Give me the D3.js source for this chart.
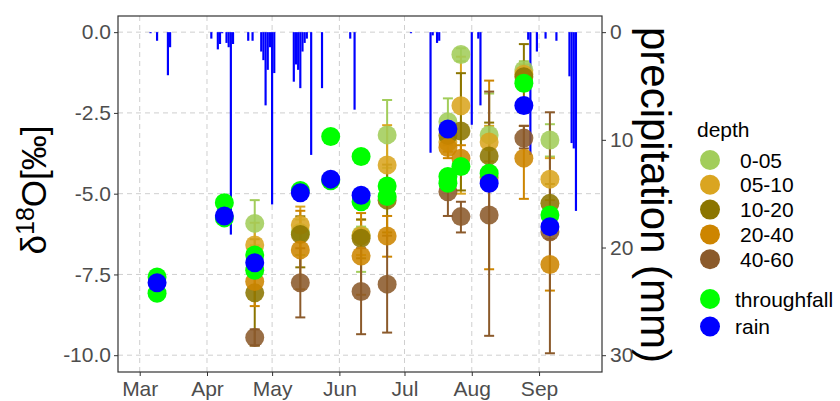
<!DOCTYPE html>
<html>
<head>
<meta charset="utf-8">
<script src="https://cdn.jsdelivr.net/npm/d3@7"></script>
<style>
  body { margin: 0; background: #fff; }
  text { font-family: "Liberation Sans", Arial, sans-serif; }
</style>
</head>
<body>
<div id="chart"></div>
<script>
// daily precipitation (mm)
const precipDates = ["2019-03-06","2019-03-09","2019-03-14","2019-03-15","2019-04-03","2019-04-06","2019-04-07","2019-04-08",
  "2019-04-10","2019-04-11","2019-04-12","2019-04-13","2019-04-20","2019-04-22","2019-04-26","2019-04-27","2019-04-28",
  "2019-04-29","2019-04-30","2019-05-01","2019-05-02","2019-05-11","2019-05-12","2019-05-13","2019-05-14","2019-05-15",
  "2019-05-16","2019-05-17","2019-05-19","2019-05-24","2019-06-06","2019-06-08","2019-07-04","2019-07-13","2019-07-14",
  "2019-07-16","2019-07-17","2019-08-01","2019-08-04","2019-08-05","2019-08-27","2019-08-28","2019-08-31","2019-09-04",
  "2019-09-09","2019-09-15","2019-09-16","2019-09-17","2019-09-18"];
const precipMm = [0.1,0.8,4.0,1.4,0.6,1.6,1.1,0.1,
  1.0,1.4,18.8,1.1,0.8,0.8,1.8,2.6,6.8,
  3.5,1.4,16.0,3.8,4.6,3.0,3.5,5.2,1.8,
  1.0,0.6,11.4,5.2,0.6,7.2,0.1,11.2,0.3,
  1.0,0.8,8.6,0.6,6.8,0.7,11.4,1.8,0.6,
  0.8,4.1,10.3,10.8,16.6];

// soil water sampling
const soilDates = ["2019-04-23","2019-05-14","2019-06-11","2019-06-23","2019-07-21","2019-07-27","2019-08-09","2019-08-25","2019-09-06"];
const depths = ["0-05","05-10","10-20","20-40","40-60"];
const mean0005 = [-5.92,-6.2,-6.28,-3.18,-2.77,-0.69,-3.18,-1.17,-3.34];
const err0005  = [[-6.6,-5.2],[-6.9,-5.8],[-7.42,-6.02],[-4.2,-2.1],[-3.5,-2.05],[-0.9,-0.5],[-4.3,-1.9],[-1.5,-0.9],[-3.85,-2.85]];
const mean0510 = [-6.59,-5.97,-6.3,-4.11,-3.4,-2.28,-3.4,-1.3,-4.55];
const err0510  = [[-7.3,-5.9],[-6.5,-5.4],[-6.9,-5.8],[-5.3,-2.88],[-3.7,-3.1],[-5.0,-0.76],[-4.0,-2.9],[-1.8,-1.0],[-5.2,-3.9]];
const mean1020 = [-8.07,-6.26,-6.38,-5.2,-3.2,-3.06,-3.83,-1.38,-5.3];
const err1020  = [[-9.7,-6.41],[-7.28,-5.7],[-7.0,-5.8],[-6.2,-4.1],[-3.5,-2.9],[-4.9,-1.27],[-4.9,-2.8],[-2.5,-0.37],[-5.9,-4.7]];
const mean2040 = [-7.72,-6.74,-6.93,-6.31,-3.57,-3.9,-4.5,-3.9,-7.19];
const err2040  = [[-8.48,-7.0],[-7.96,-5.53],[-8.13,-5.6],[-6.95,-5.69],[-3.9,-3.2],[-4.3,-3.5],[-7.34,-1.5],[-5.16,-2.9],[-8.0,-6.4]];
const mean4060 = [-9.45,-7.76,-8.03,-7.8,-4.94,-5.71,-5.66,-3.28,-6.18];
const err4060  = [[-9.7,-9.2],[-8.83,-6.69],[-9.35,-6.69],[-9.3,-6.3],[-5.69,-4.3],[-6.2,-5.25],[-9.4,-1.84],[-3.6,-2.9],[-9.94,-2.48]];

// throughfall and rain
const tfDates = ["2019-03-09","2019-03-09","2019-04-09","2019-04-09","2019-04-23","2019-04-23","2019-05-14","2019-05-28","2019-05-28",
  "2019-06-11","2019-06-11","2019-06-23","2019-06-23","2019-07-21","2019-07-21","2019-07-27","2019-08-09","2019-08-25","2019-09-06"];
const tfValues = [-7.58,-8.08,-5.28,-5.75,-6.9,-7.37,-4.9,-3.23,-4.6,
  -3.85,-5.25,-4.76,-5.09,-4.47,-4.68,-4.16,-4.37,-1.58,-5.66];
const rainDates = ["2019-03-09","2019-04-09","2019-04-23","2019-05-14","2019-05-28","2019-06-11","2019-07-21","2019-08-09","2019-08-25","2019-09-06"];
const rainValues = [-7.76,-5.69,-7.14,-4.97,-4.55,-5.05,-3.0,-4.68,-2.27,-6.02];

const yTicks = [0, -2.5, -5, -7.5, -10];
const precipTicks = [0, 10, 20, 30];

const width = 840, height = 401;
const parse = d3.timeParse("%Y-%m-%d");

const svg = d3.select("#chart")
  .append("svg")
  .attr("width", width)
  .attr("height", height);

const x = d3.scaleTime()
  .domain([parse("2019-02-19"), parse("2019-09-30")])
  .range([118, 602]);
const y = d3.scaleLinear()
  .domain([-10.52, 0.5])
  .range([372, 16]);
// secondary axis: mm = -3 * delta
const yp = d3.scaleLinear()
  .domain([0, 30])
  .range([y(0), y(-10)]);

const color = d3.scaleOrdinal()
  .domain(depths)
  .range(["#A2CD5A", "#DAA520", "#8B7500", "#CD8500", "#8B5A2B"]);

const months = d3.timeMonth.range(parse("2019-03-01"), parse("2019-09-02"));

// grid
const grid = svg.append("g").attr("stroke", "#cfcfcf").attr("stroke-dasharray", "5,4");
grid.selectAll(".gx").data(months).join("line")
  .attr("x1", d => x(d)).attr("x2", d => x(d))
  .attr("y1", 16).attr("y2", 372);
grid.selectAll(".gy").data(yTicks).join("line")
  .attr("x1", 118).attr("x2", 602)
  .attr("y1", d => y(d)).attr("y2", d => y(d));

// precipitation bars
const precip = precipDates.map((d, i) => ({date: parse(d), mm: precipMm[i]}));
const barW = x(parse("2019-03-02")) - x(parse("2019-03-01"));
svg.append("g")
  .selectAll("rect")
  .data(precip)
  .join("rect")
  .attr("x", d => x(d.date) - barW / 2)
  .attr("width", barW)
  .attr("y", yp(0))
  .attr("height", d => yp(d.mm) - yp(0))
  .attr("fill", "#0000FF");

// soil data
const means = [mean0005, mean0510, mean1020, mean2040, mean4060];
const errs = [err0005, err0510, err1020, err2040, err4060];
const soil = [];
depths.forEach((dep, k) => {
  soilDates.forEach((d, i) => {
    if (means[k][i] == null) return;
    soil.push({date: parse(d), depth: dep, mean: means[k][i], lo: errs[k][i][0], hi: errs[k][i][1]});
  });
});

const eb = svg.append("g")
  .selectAll("g")
  .data(soil)
  .join("g")
  .attr("stroke", d => color(d.depth))
  .attr("stroke-width", 2);
eb.append("line")
  .attr("x1", d => x(d.date)).attr("x2", d => x(d.date))
  .attr("y1", d => y(d.lo)).attr("y2", d => y(d.hi));
eb.append("line")
  .attr("x1", d => x(d.date) - 5).attr("x2", d => x(d.date) + 5)
  .attr("y1", d => y(d.lo)).attr("y2", d => y(d.lo));
eb.append("line")
  .attr("x1", d => x(d.date) - 5).attr("x2", d => x(d.date) + 5)
  .attr("y1", d => y(d.hi)).attr("y2", d => y(d.hi));

svg.append("g")
  .selectAll("circle")
  .data(soil)
  .join("circle")
  .attr("cx", d => x(d.date))
  .attr("cy", d => y(d.mean))
  .attr("r", 9.5)
  .attr("fill", d => color(d.depth))
  .attr("fill-opacity", 0.88);

svg.append("g")
  .selectAll("circle")
  .data(tfDates.map((d, i) => ({date: parse(d), v: tfValues[i]})))
  .join("circle")
  .attr("cx", d => x(d.date))
  .attr("cy", d => y(d.v))
  .attr("r", 9.5)
  .attr("fill", "#00FF00");

svg.append("g")
  .selectAll("circle")
  .data(rainDates.map((d, i) => ({date: parse(d), v: rainValues[i]})))
  .join("circle")
  .attr("cx", d => x(d.date))
  .attr("cy", d => y(d.v))
  .attr("r", 9.5)
  .attr("fill", "#0000FF");

// panel border
svg.append("rect")
  .attr("x", 118).attr("y", 16)
  .attr("width", 484).attr("height", 356)
  .attr("fill", "none")
  .attr("stroke", "#333")
  .attr("stroke-width", 1.2);

// axes
function styleAxis(g) {
  g.select(".domain").remove();
  g.selectAll(".tick line").attr("stroke", "#333");
  g.selectAll(".tick text")
    .attr("fill", "#4d4d4d")
    .attr("font-size", 21)
    .attr("font-family", "Liberation Sans, Arial, sans-serif");
}

svg.append("g")
  .attr("transform", "translate(118,0)")
  .call(d3.axisLeft(y).tickValues(yTicks).tickFormat(d => d.toFixed(1)).tickSize(4).tickPadding(3))
  .call(styleAxis);

svg.append("g")
  .attr("transform", "translate(0,372)")
  .call(d3.axisBottom(x).tickValues(months).tickFormat(d3.timeFormat("%b")).tickSize(4).tickPadding(5))
  .call(styleAxis);

svg.append("g")
  .attr("transform", "translate(602,0)")
  .call(d3.axisRight(yp).tickValues(precipTicks).tickFormat(d3.format("d")).tickSize(4).tickPadding(4))
  .call(styleAxis);

// axis titles
const yTitle = svg.append("text")
  .attr("transform", "translate(46,190) rotate(-90)")
  .attr("text-anchor", "middle")
  .attr("font-size", 35)
  .attr("fill", "#000");
yTitle.append("tspan").text("δ");
yTitle.append("tspan").attr("font-size", 25).attr("dy", -12).text("18");
yTitle.append("tspan").attr("dy", 12).text("O[‰]");

svg.append("text")
  .attr("transform", "translate(641,195) rotate(90)")
  .attr("text-anchor", "middle")
  .attr("font-size", 42)
  .attr("fill", "#000")
  .text("precipitation (mm)");

// legend
const legend = svg.append("g");
legend.append("text")
  .attr("x", 697).attr("y", 137)
  .attr("font-size", 21)
  .text("depth");

const legendItems = legend.selectAll(".dep")
  .data(depths)
  .join("g")
  .attr("transform", (d, i) => `translate(0,${160 + i * 24.8})`);
legendItems.append("circle")
  .attr("cx", 710).attr("r", 10)
  .attr("fill", d => color(d));
legendItems.append("text")
  .attr("x", 740).attr("dy", "0.36em")
  .attr("font-size", 21)
  .text(d => d);

const waterLegend = legend.selectAll(".wat")
  .data([["throughfall", "#00FF00"], ["rain", "#0000FF"]])
  .join("g")
  .attr("transform", (d, i) => `translate(0,${299 + i * 27.5})`);
waterLegend.append("circle")
  .attr("cx", 710).attr("r", 10)
  .attr("fill", d => d[1]);
waterLegend.append("text")
  .attr("x", 735).attr("dy", "0.36em")
  .attr("font-size", 21)
  .text(d => d[0]);
</script>
</body>
</html>
